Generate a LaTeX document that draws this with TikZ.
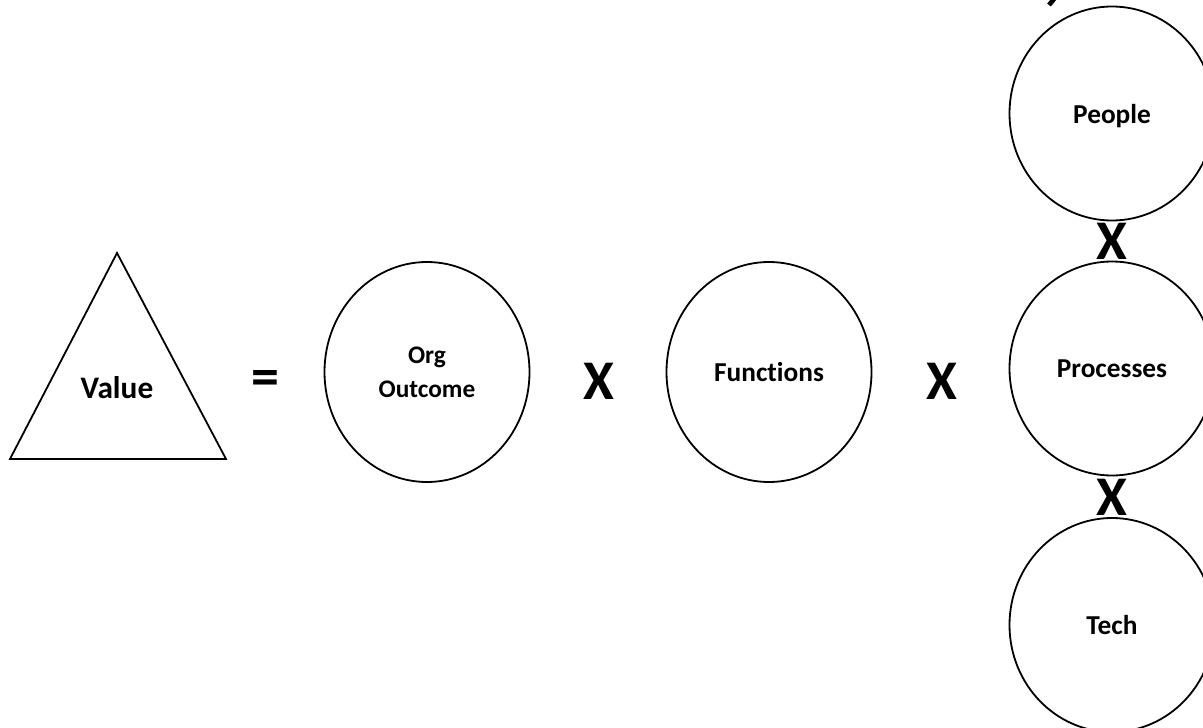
\documentclass[tikz,border=0pt]{standalone}
\usepackage{fontspec}
\setmainfont[Ligatures={NoCommon}]{Carlito}
\usetikzlibrary{shapes.geometric}
\tikzset{
  bubble/.style={draw=black, line width=1.35pt, ellipse, inner sep=0pt,
    minimum width=205*0.75pt, minimum height=#1*0.75pt,
    font=\fontsize{20.5pt}{24pt}\selectfont\bfseries, align=center, text depth=0pt},
  bubble/.default=214,
  op/.style={font=\fontsize{42pt}{48pt}\selectfont\bfseries, inner sep=0pt},
  label/.style={font=\fontsize{23.5pt}{28pt}\selectfont\bfseries, inner sep=0pt}
}
\begin{document}
\begin{tikzpicture}[x=0.75pt,y=-0.75pt]
\useasboundingbox (0,0) rectangle (1203,728);
\clip (0,0) rectangle (1203,728);
\fill[white] (0,0) rectangle (1203,728);
% triangle
\coordinate (tA) at (117,253);
\coordinate (tB) at (10,459);
\coordinate (tC) at (226,459);
\draw[line width=1.35pt, line join=miter] (tA) -- (tB) -- (tC) -- cycle;
\node[label] (value) at (117,388) {Value};
\node[op] (eq) at (265,383) {=};
% circles
\node[bubble=220, font=\fontsize{19pt}{25.5pt}\selectfont\bfseries] (org) at (427,372) {Org\\Outcome};
\node[op] (x1) at (599,381) {X};
\node[bubble=220] (fun) at (769,372) {Functions};
\node[op] (x2) at (942,381) {X};
\node[bubble] (people) at (1112,113.5) {People};
\node[op] (x3) at (1112,241) {X};
\node[bubble] (proc) at (1112,368.5) {Processes};
\node[op] (x4) at (1112,497) {X};
\node[bubble] (tech) at (1112,625) {Tech};
% cut-off glyph fragment at top edge
\coordinate (fragA) at (1054,-1);
\coordinate (fragB) at (1049,5);
\draw[line width=3.5pt] (fragA) -- (fragB);
\end{tikzpicture}
\end{document}
